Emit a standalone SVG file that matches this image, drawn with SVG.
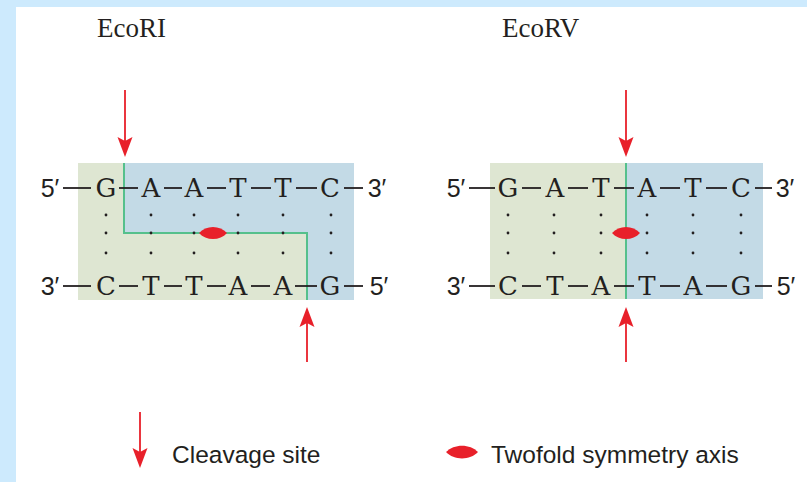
<svg xmlns="http://www.w3.org/2000/svg" width="807" height="482" viewBox="0 0 807 482">
<defs>
<style>
.bg{fill:#cdeafd}
.panel{fill:#ffffff}
.g{fill:#dee6d2}
.b{fill:#c3dae6}
.axis{fill:none;stroke:#55c08c;stroke-width:2}
.base{font-family:"DejaVu Serif","Liberation Serif",serif;font-size:26px;fill:#231f20;text-anchor:middle}
.end{font-family:"Liberation Sans",Arial,sans-serif;font-size:25px;fill:#231f20;text-anchor:middle}
.title{font-family:"Liberation Serif",serif;font-size:27px;fill:#231f20}
.leg{font-family:"Liberation Sans",Arial,sans-serif;font-size:24.5px;fill:#231f20}
.bond{stroke:#231f20;stroke-width:1.8}
.dot{fill:#231f20}
.shaft{stroke:#e8202a;stroke-width:1.8}
.head{fill:#e8202a}
.lens{fill:#e8202a}
</style>
<path id="dn" d="M0,0 L-7.5,-20 L0,-16 L7.5,-20 Z"/>
<path id="up" d="M0,0 L-7.5,20 L0,16 L7.5,20 Z"/>
<path id="lensShape" d="M-14,0 C-7,-8 7,-8 14,0 C7,8 -7,8 -14,0 Z"/>
<g id="dotcol">
<circle cx="0" cy="215" r="1.4"/>
<circle cx="0" cy="233" r="1.4"/>
<circle cx="0" cy="253" r="1.4"/>
</g>
</defs>
<rect class="bg" x="0" y="0" width="807" height="482"/>
<rect class="panel" x="16" y="7" width="791" height="475"/>

<g id="ecori">
<text class="title" x="97" y="37">EcoRI</text>
<rect class="g" x="78" y="163" width="276" height="137"/>
<path class="b" d="M124,163 H354 V300 H307 V233 H124 Z"/>
<polyline class="axis" points="124,163 124,233 307,233 307,300"/>
<g class="bond">
<line x1="63" y1="188" x2="91" y2="188"/>
<line x1="119" y1="188" x2="138" y2="188"/>
<line x1="164" y1="188" x2="182" y2="188"/>
<line x1="207" y1="188" x2="226" y2="188"/>
<line x1="251" y1="188" x2="271" y2="188"/>
<line x1="296" y1="188" x2="317" y2="188"/>
<line x1="344" y1="188" x2="363" y2="188"/>
<line x1="63" y1="286" x2="91" y2="286"/>
<line x1="119" y1="286" x2="138" y2="286"/>
<line x1="164" y1="286" x2="182" y2="286"/>
<line x1="207" y1="286" x2="226" y2="286"/>
<line x1="251" y1="286" x2="270" y2="286"/>
<line x1="295" y1="286" x2="317" y2="286"/>
<line x1="344" y1="286" x2="363" y2="286"/>
</g>
<text class="end" x="50" y="197">5′</text>
<text class="base" x="106" y="197">G</text>
<text class="base" x="151" y="197">A</text>
<text class="base" x="194" y="197">A</text>
<text class="base" x="238" y="197">T</text>
<text class="base" x="283" y="197">T</text>
<text class="base" x="330" y="197">C</text>
<text class="end" x="377" y="197">3′</text>
<text class="end" x="50" y="295">3′</text>
<text class="base" x="106" y="295">C</text>
<text class="base" x="151" y="295">T</text>
<text class="base" x="194" y="295">T</text>
<text class="base" x="238" y="295">A</text>
<text class="base" x="283" y="295">A</text>
<text class="base" x="330" y="295">G</text>
<text class="end" x="379" y="295">5′</text>
<g class="dot">
<use href="#dotcol" x="106"/>
<use href="#dotcol" x="151"/>
<use href="#dotcol" x="194"/>
<use href="#dotcol" x="238"/>
<use href="#dotcol" x="283"/>
<use href="#dotcol" x="331"/>
</g>
<use class="lens" href="#lensShape" x="213" y="233"/>
</g>

<g id="ecorv">
<text class="title" x="502" y="37">EcoRV</text>
<rect class="g" x="490" y="163" width="273" height="136"/>
<rect class="b" x="626" y="163" width="137" height="136"/>
<line class="axis" x1="626" y1="163" x2="626" y2="299"/>
<g class="bond">
<line x1="469" y1="188" x2="495" y2="188"/>
<line x1="522" y1="188" x2="541" y2="188"/>
<line x1="568" y1="188" x2="588" y2="188"/>
<line x1="614" y1="188" x2="634" y2="188"/>
<line x1="660" y1="188" x2="680" y2="188"/>
<line x1="706" y1="188" x2="727" y2="188"/>
<line x1="755" y1="188" x2="772" y2="188"/>
<line x1="469" y1="286" x2="495" y2="286"/>
<line x1="522" y1="286" x2="541" y2="286"/>
<line x1="568" y1="286" x2="588" y2="286"/>
<line x1="614" y1="286" x2="634" y2="286"/>
<line x1="660" y1="286" x2="680" y2="286"/>
<line x1="706" y1="286" x2="727" y2="286"/>
<line x1="755" y1="286" x2="772" y2="286"/>
</g>
<text class="end" x="456" y="197">5′</text>
<text class="base" x="508" y="197">G</text>
<text class="base" x="555" y="197">A</text>
<text class="base" x="601" y="197">T</text>
<text class="base" x="647" y="197">A</text>
<text class="base" x="693" y="197">T</text>
<text class="base" x="741" y="197">C</text>
<text class="end" x="785" y="197">3′</text>
<text class="end" x="456" y="295">3′</text>
<text class="base" x="508" y="295">C</text>
<text class="base" x="555" y="295">T</text>
<text class="base" x="601" y="295">A</text>
<text class="base" x="647" y="295">T</text>
<text class="base" x="693" y="295">A</text>
<text class="base" x="741" y="295">G</text>
<text class="end" x="786" y="295">5′</text>
<g class="dot">
<use href="#dotcol" x="508"/>
<use href="#dotcol" x="554"/>
<use href="#dotcol" x="601"/>
<use href="#dotcol" x="647"/>
<use href="#dotcol" x="693"/>
<use href="#dotcol" x="741"/>
</g>
<use class="lens" href="#lensShape" x="626" y="233"/>
</g>

<g id="connectors">
<line class="shaft" x1="125" y1="90" x2="125" y2="145"/>
<use class="head" href="#dn" x="125" y="157"/>
<line class="shaft" x1="307" y1="318" x2="307" y2="362"/>
<use class="head" href="#up" x="307" y="307"/>
<line class="shaft" x1="626" y1="90" x2="626" y2="145"/>
<use class="head" href="#dn" x="626" y="157"/>
<line class="shaft" x1="626" y1="318" x2="626" y2="362"/>
<use class="head" href="#up" x="626" y="307"/>
</g>

<g id="legend">
<line class="shaft" x1="140" y1="412" x2="140" y2="456"/>
<use class="head" href="#dn" x="140" y="468"/>
<text class="leg" x="172" y="463">Cleavage site</text>
<path class="lens" d="M446,452 C454,443.5 470,443.5 478,452 C470,460.5 454,460.5 446,452 Z"/>
<text class="leg" x="491" y="463">Twofold symmetry axis</text>
</g>
</svg>
